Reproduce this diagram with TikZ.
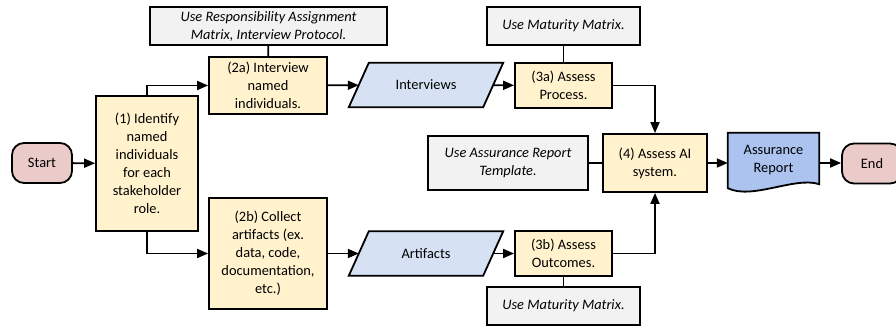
\documentclass[tikz,border=0pt]{standalone}
\usepackage{fontspec}
\setmainfont{Carlito}
\usetikzlibrary{arrows.meta,backgrounds}
\definecolor{procfill}{HTML}{FFF2CC}
\definecolor{notefill}{HTML}{F2F2F2}
\definecolor{termfill}{HTML}{EBCACA}
\definecolor{iofill}{HTML}{D6E2F4}
\definecolor{docfill}{HTML}{ABC3EE}
\begin{document}
\begin{tikzpicture}[x=1pt,y=-1pt,
  base/.style={draw=black, line width=1.8pt, align=center, inner sep=1pt,
    font=\fontsize{14.4}{18}\selectfont},
  proc/.style={base, fill=procfill},
  note/.style={base, fill=notefill, font=\fontsize{14.4}{18}\selectfont\itshape},
  term/.style={base, fill=termfill, rounded corners=12pt},
  io/.style={align=center, inner sep=1pt, font=\fontsize{14.4}{18}\selectfont,
    minimum width=134pt, minimum height=44pt},
  shp/.style={draw=black, line width=1.8pt},
  arr/.style={line width=1.8pt, -{Triangle[length=11pt,width=9pt]}},
  link/.style={line width=1.8pt}]
\useasboundingbox (0,0) rectangle (896,328);

\node[term, minimum width=60pt, minimum height=40pt] (start) at (42,163) {Start};
\node[proc, minimum width=102pt, minimum height=135pt] (n1) at (147,163.5)
  {(1) Identify\\named\\individuals\\for each\\stakeholder\\role.};
\node[proc, minimum width=118pt, minimum height=57pt] (n2a) at (268,85.5)
  {(2a) Interview\\named\\individuals.};
\node[note, minimum width=237pt, minimum height=38pt] (ram) at (268.5,26)
  {Use Responsibility Assignment\\Matrix, Interview Protocol.};
\node[io] (intv) at (426,85) {Interviews};
\node[proc, minimum width=97pt, minimum height=45pt] (n3a) at (563.5,85.5)
  {(3a) Assess\\Process.};
\node[note, minimum width=153pt, minimum height=38pt] (mm1) at (563.5,26)
  {Use Maturity Matrix.};
\node[proc, minimum width=104pt, minimum height=58pt] (n4) at (655,163)
  {(4) Assess AI\\system.};
\node[note, minimum width=160pt, minimum height=54pt] (tmpl) at (508,163)
  {Use Assurance Report\\Template.};
\node[align=center, inner sep=1pt, font=\fontsize{14.4}{18}\selectfont,
  minimum width=91pt, minimum height=54pt] (rep) at (773.5,160) {Assurance\\Report};
\node[term, minimum width=60pt, minimum height=40pt] (endn) at (872,163.5) {End};
\node[proc, minimum width=118pt, minimum height=111pt] (n2b) at (268,253.5)
  {(2b) Collect\\artifacts (ex.\\data, code,\\documentation,\\etc.)};
\node[io] (art) at (426,253.5) {Artifacts};
\node[proc, minimum width=97pt, minimum height=45pt] (n3b) at (563.5,253.5)
  {(3b) Assess\\Outcomes.};
\node[note, minimum width=153pt, minimum height=38pt] (mm2) at (563.5,306)
  {Use Maturity Matrix.};

\begin{pgfonlayer}{background}
  \foreach \p in {intv,art}{
    \path[shp, fill=iofill] ([xshift=-10pt]\p.south west) -- ([xshift=10pt]\p.north west)
      -- ([xshift=10pt]\p.north east) -- ([xshift=-10pt]\p.south east) -- cycle;
  }
  \path[shp, fill=docfill] (rep.north west) -- (rep.north east)
    -- ([yshift=3pt]rep.south east)
    .. controls ([xshift=21.5pt,yshift=11pt]rep.south) and ([xshift=-21.5pt,yshift=-13pt]rep.south)
    .. ([yshift=-1pt]rep.south west) -- cycle;
\end{pgfonlayer}

\draw[arr] (start) -- (n1);
\draw[arr] (n1.north) |- (n2a.west);
\draw[arr] (n1.south) |- (n2b.west);
\draw[arr] (n2a) -- (intv);
\draw[arr] (n2b) -- (art);
\draw[arr] (intv) -- (n3a);
\draw[arr] (art) -- (n3b);
\draw[arr] (n3a.east) -| (n4.north);
\draw[arr] (n3b.east) -| (n4.south);
\draw[arr] (n4.east) -- (n4.east -| rep.west);
\draw[arr] (n4.east -| rep.east) -- (n4.east -| endn.west);
\draw[link] (ram) -- (n2a);
\draw[link] (mm1) -- (n3a);
\draw[link] (mm2) -- (n3b);
\draw[link] (tmpl) -- (n4);
\end{tikzpicture}
\end{document}
